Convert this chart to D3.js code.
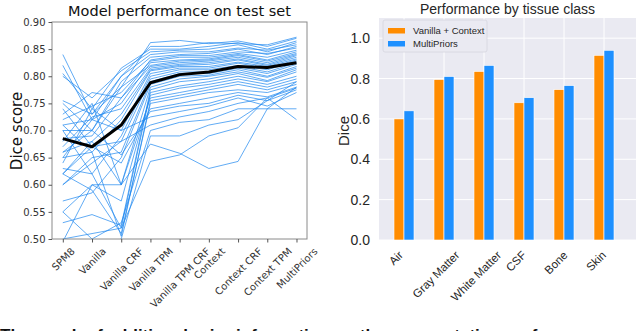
<!DOCTYPE html>
<html><head><meta charset="utf-8">
<script src="https://cdn.jsdelivr.net/npm/d3@7"></script>
<style>body{margin:0;background:#fff}svg{display:block}</style>
</head><body>
<svg id="c" width="640" height="331"></svg>
<script>
// ---------- Data ----------
const models = ["SPM8","Vanilla","Vanilla CRF","Vanilla TPM","Vanilla TPM CRF","Context","Context CRF","Context TPM","MultiPriors"];
const meanScore = [0.685,0.670,0.710,0.788,0.803,0.808,0.818,0.816,0.825];
const subjectScores = [
 [0.840,0.730,0.780,0.862,0.866,0.860,0.865,0.855,0.870],
 [0.820,0.720,0.800,0.855,0.855,0.862,0.860,0.858,0.872],
 [0.805,0.740,0.815,0.850,0.850,0.855,0.862,0.850,0.865],
 [0.800,0.760,0.810,0.845,0.848,0.850,0.858,0.845,0.862],
 [0.755,0.730,0.800,0.840,0.845,0.845,0.852,0.848,0.858],
 [0.750,0.700,0.790,0.835,0.840,0.842,0.850,0.840,0.855],
 [0.730,0.770,0.760,0.830,0.838,0.838,0.845,0.842,0.852],
 [0.720,0.745,0.770,0.828,0.835,0.835,0.842,0.835,0.848],
 [0.710,0.720,0.750,0.825,0.830,0.832,0.840,0.830,0.845],
 [0.700,0.700,0.780,0.820,0.828,0.830,0.838,0.828,0.842],
 [0.685,0.690,0.760,0.818,0.825,0.828,0.835,0.825,0.840],
 [0.670,0.725,0.740,0.815,0.822,0.825,0.832,0.822,0.838],
 [0.660,0.680,0.730,0.812,0.820,0.822,0.830,0.820,0.835],
 [0.650,0.660,0.720,0.810,0.818,0.818,0.826,0.818,0.832],
 [0.640,0.740,0.700,0.805,0.815,0.815,0.824,0.815,0.830],
 [0.630,0.620,0.690,0.800,0.812,0.812,0.820,0.812,0.828],
 [0.620,0.670,0.680,0.795,0.808,0.808,0.818,0.808,0.825],
 [0.600,0.650,0.660,0.790,0.805,0.805,0.815,0.805,0.822],
 [0.570,0.585,0.650,0.785,0.800,0.802,0.812,0.800,0.818],
 [0.550,0.600,0.600,0.780,0.795,0.800,0.808,0.798,0.815],
 [0.530,0.545,0.525,0.775,0.790,0.795,0.805,0.792,0.812],
 [0.500,0.510,0.520,0.770,0.782,0.790,0.800,0.790,0.808],
 [0.495,0.600,0.570,0.765,0.778,0.785,0.795,0.785,0.800],
 [0.680,0.750,0.600,0.760,0.770,0.780,0.790,0.780,0.795],
 [0.710,0.660,0.505,0.755,0.765,0.775,0.785,0.775,0.790],
 [0.620,0.590,0.510,0.750,0.760,0.770,0.775,0.770,0.785],
 [0.740,0.670,0.640,0.740,0.750,0.760,0.770,0.762,0.780],
 [0.660,0.700,0.655,0.735,0.745,0.750,0.765,0.755,0.775],
 [0.650,0.720,0.700,0.725,0.735,0.745,0.760,0.745,0.770],
 [0.600,0.640,0.680,0.710,0.725,0.735,0.750,0.760,0.778],
 [0.550,0.500,0.530,0.700,0.715,0.720,0.740,0.740,0.780],
 [0.620,0.680,0.600,0.675,0.658,0.630,0.643,0.740,0.740],
 [0.700,0.620,0.520,0.643,0.655,0.690,0.705,0.760,0.720],
 [0.490,0.480,0.500,0.690,0.690,0.710,0.720,0.755,0.790]
];
const yTicksLeft = [0.50,0.55,0.60,0.65,0.70,0.75,0.80,0.85,0.90];

const tissues = ["Air","Gray Matter","White Matter","CSF","Bone","Skin"];
const seriesNames = ["Vanilla + Context","MultiPriors"];
const vanillaContext = [0.600,0.795,0.835,0.680,0.745,0.915];
const multiPriors = [0.640,0.810,0.865,0.705,0.765,0.940];
const yTicksRight = [0.0,0.2,0.4,0.6,0.8,1.0];

const svg = d3.select("#c");

function placeRotated(sel, cx, top, fs) {
  sel.each(function(){
    const t = d3.select(this);
    const L = this.getComputedTextLength();
    const d = (L + fs) / (2*Math.SQRT2);
    const ax = cx, ay = top + d;
    t.attr("x", ax).attr("y", ay).attr("text-anchor","middle")
     .attr("dominant-baseline","central")
     .attr("transform", `rotate(-45 ${ax} ${ay})`);
  });
}

// ---------- Left chart ----------
(function(){
  const L = {left:52, right:307, top:22, bottom:239};
  const x = d3.scaleLinear().domain([-0.37, 8.36]).range([L.left, L.right]);
  const y = d3.scaleLinear().domain([0.5, 0.9]).range([L.bottom, L.top]);
  const g = svg.append("g");
  g.append("clipPath").attr("id","clipL").append("rect")
    .attr("x",L.left).attr("y",L.top).attr("width",L.right-L.left).attr("height",L.bottom-L.top);
  const line = d3.line().x((d,i)=>x(i)).y(d=>y(d));
  const lg = g.append("g").attr("clip-path","url(#clipL)");
  lg.selectAll("path.s").data(subjectScores).enter().append("path")
    .attr("class","s").attr("d", line).attr("fill","none")
    .attr("stroke","#1e88f0").attr("stroke-opacity",0.7).attr("stroke-width",1);
  lg.append("path").datum(meanScore).attr("d", line).attr("fill","none")
    .attr("stroke","#000").attr("stroke-width",3).attr("stroke-linejoin","round");
  // frame
  g.append("rect").attr("x",L.left).attr("y",L.top).attr("width",L.right-L.left).attr("height",L.bottom-L.top)
    .attr("fill","none").attr("stroke","#8a8a8a").attr("stroke-width",1);
  // y axis
  const ya = d3.axisLeft(y).tickValues(yTicksLeft).tickFormat(d3.format(".2f")).tickSize(3.5).tickPadding(3);
  const yg = g.append("g").attr("transform",`translate(${L.left},0)`).call(ya);
  yg.select(".domain").remove();
  yg.selectAll(".tick line").attr("stroke","#555");
  yg.selectAll("text").attr("font-family","DejaVu Sans").attr("font-size",10).attr("fill","#333");
  // x axis
  const xa = d3.axisBottom(x).tickValues(d3.range(models.length)).tickFormat(i=>models[i]).tickSize(3.5).tickPadding(3);
  const xg = g.append("g").attr("transform",`translate(0,${L.bottom})`).call(xa);
  xg.select(".domain").remove();
  xg.selectAll(".tick line").attr("stroke","#555");
  xg.selectAll(".tick").each(function(d){
    const t = d3.select(this).select("text");
    t.attr("font-family","DejaVu Sans").attr("font-size",10).attr("fill","#333").attr("dy",null);
    placeRotated(t, 0, 7, 10);
  });
  g.append("text").attr("x",(L.left+L.right)/2).attr("y",16).attr("text-anchor","middle")
    .attr("font-family","DejaVu Sans").attr("font-size",14.5).attr("fill","#111")
    .text("Model performance on test set");
  g.append("text").attr("transform",`translate(22,131) rotate(-90)`).attr("text-anchor","middle")
    .attr("font-family","DejaVu Sans").attr("font-size",15).attr("fill","#111").text("Dice score");
})();

// ---------- Right chart ----------
(function(){
  const R = {left:379, right:636, top:18, bottom:240};
  const x = d3.scaleLinear().domain([-0.625, 5.8]).range([R.left, R.right]);
  const y = d3.scaleLinear().domain([0, 1.1]).range([R.bottom, R.top]);
  const g = svg.append("g");
  g.append("rect").attr("x",R.left).attr("y",R.top).attr("width",R.right-R.left).attr("height",R.bottom-R.top)
    .attr("fill","#eaeaf2");
  // grid
  g.selectAll("line.hg").data(yTicksRight).enter().append("line")
    .attr("x1",R.left).attr("x2",R.right).attr("y1",d=>y(d)).attr("y2",d=>y(d))
    .attr("stroke","#fff").attr("stroke-width",1);
  g.selectAll("line.vg").data(d3.range(tissues.length)).enter().append("line")
    .attr("x1",d=>x(d)).attr("x2",d=>x(d)).attr("y1",R.top).attr("y2",R.bottom)
    .attr("stroke","#fff").attr("stroke-width",1);
  const bw = 0.25;
  const series = [{name:seriesNames[0], vals:vanillaContext, color:"#ff8c00", off:-bw},
                  {name:seriesNames[1], vals:multiPriors, color:"#1e90ff", off:0}];
  series.forEach(s=>{
    g.selectAll(null).data(s.vals).enter().append("rect")
      .attr("x",(d,i)=>x(i+s.off)).attr("width",x(bw)-x(0))
      .attr("y",d=>y(d)).attr("height",d=>y(0)-y(d))
      .attr("fill",s.color).attr("stroke","#fff").attr("stroke-width",0.6);
  });
  // y tick labels
  g.selectAll("text.yt").data(yTicksRight).enter().append("text")
    .attr("x",R.left-9).attr("y",d=>y(d)).attr("dy","0.36em").attr("text-anchor","end")
    .attr("font-family","Liberation Sans").attr("font-size",14).attr("fill","#262626")
    .text(d=>d.toFixed(1));
  // x tick labels
  g.selectAll("text.xt").data(tissues).enter().append("text")
    .attr("font-family","Liberation Sans").attr("font-size",11.5).attr("fill","#262626")
    .text(d=>d)
    .each(function(d,i){ placeRotated(d3.select(this), x(i)-8, 249, 11.5); });
  // title & label
  g.append("text").attr("x",(R.left+R.right)/2).attr("y",14).attr("text-anchor","middle")
    .attr("font-family","Liberation Sans").attr("font-size",14).attr("fill","#262626")
    .text("Performance by tissue class");
  g.append("text").attr("transform",`translate(349,131) rotate(-90)`).attr("text-anchor","middle")
    .attr("font-family","Liberation Sans").attr("font-size",15).attr("fill","#262626").text("Dice");
  // legend
  const lg = g.append("g").attr("transform","translate(383,20)");
  lg.append("rect").attr("width",104).attr("height",32).attr("rx",2)
    .attr("fill","#eaeaf2").attr("stroke","#d6d6de").attr("stroke-width",0.8);
  series.forEach((s,i)=>{
    lg.append("rect").attr("x",5).attr("y",8+i*13).attr("width",17).attr("height",5.5).attr("fill",s.color);
    lg.append("text").attr("x",30).attr("y",14+i*13).attr("font-family","Liberation Sans")
      .attr("font-size",9.5).attr("fill","#262626").text(s.name);
  });
})();

// caption (cut off at bottom)
svg.append("text").attr("x",0).attr("y",341).attr("font-family","Liberation Sans")
  .attr("font-size",17).attr("font-weight","bold").attr("fill","#111")
  .text("The graph of additional prior information on the segmentation performance.");
</script>
</body></html>
